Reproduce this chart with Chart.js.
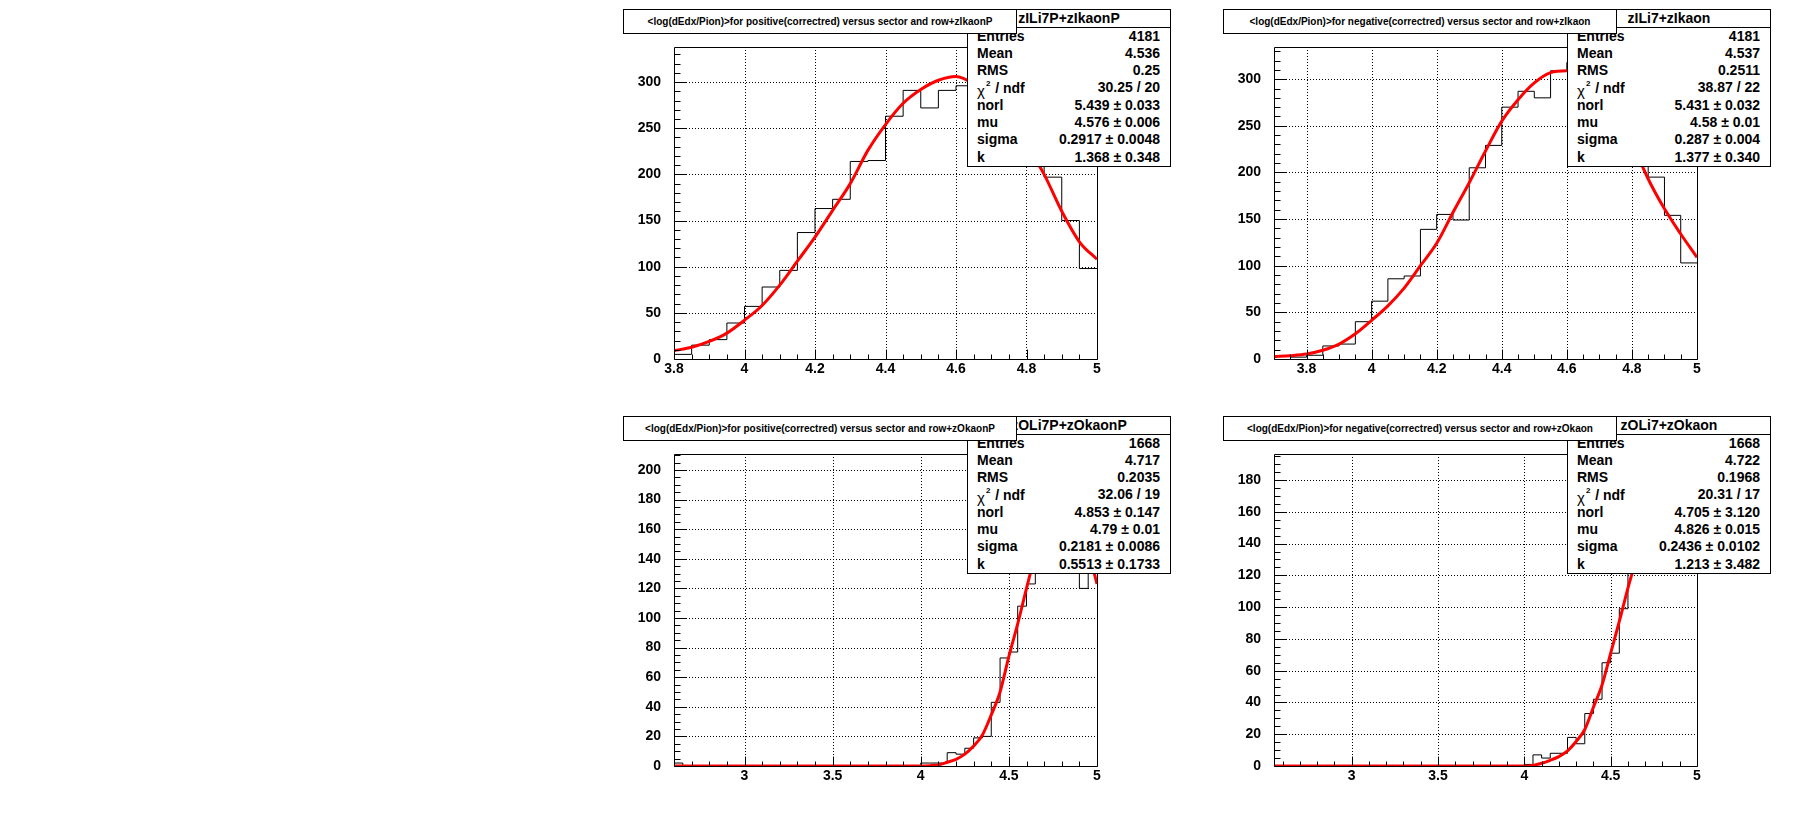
<!DOCTYPE html>
<html>
<head>
<meta charset="utf-8">
<script src="https://cdn.jsdelivr.net/npm/chart.js@4.4.1/dist/chart.umd.min.js"></script>
<style>
  body { margin: 0; background: #fff; font-family: "Liberation Sans", Arial, sans-serif; }
  #page { position: relative; width: 1800px; height: 814px; overflow: hidden; background: #fff; }
  .pad { position: absolute; width: 600px; height: 407px; }
  .pad canvas { position: absolute; left: 0; top: 0; }
  .title {
    position: absolute; left: 23px; top: 9px; width: 394px; height: 25px; box-sizing: border-box;
    border: 1px solid #000; background: #fff; z-index: 3;
    font-weight: bold; font-size: 10px; line-height: 23px; text-align: center; white-space: nowrap; color: #000;
  }
  .stat {
    position: absolute; left: 367px; top: 9px; width: 204px; height: 158px; box-sizing: border-box;
    border: 1px solid #000; background: #fff; z-index: 2; font-weight: bold; font-size: 14px; color: #000;
  }
  .stat .hdr {
    position: absolute; left: 0; top: 0; right: 0; height: 18px; box-sizing: border-box;
    border-bottom: 1px solid #000; text-align: center; line-height: 17px; white-space: nowrap;
  }
  .stat .row { position: absolute; left: 9px; right: 10px; height: 17px; line-height: 17px; white-space: nowrap; }
  .stat .row .v { position: absolute; right: 0; top: 0; }
  .chi { font-weight: normal; font-size: 15px; position: relative; top: 3px; }
  .sup { font-size: 8px; position: relative; top: -7px; margin-left: 1px; margin-right: 1px; }
</style>
</head>
<body>
<div id="page">
  <div class="pad" id="padTL" style="left:600px;top:0px"><canvas id="cTL" width="600" height="407"></canvas></div>
  <div class="pad" id="padTR" style="left:1200px;top:0px"><canvas id="cTR" width="600" height="407"></canvas></div>
  <div class="pad" id="padBL" style="left:600px;top:407px"><canvas id="cBL" width="600" height="407"></canvas></div>
  <div class="pad" id="padBR" style="left:1200px;top:407px"><canvas id="cBR" width="600" height="407"></canvas></div>
</div>
<script>
// histogram contents (bin width 0.05)
const tlXMin = 3.8;
const tlCounts = [5, 15, 21, 39, 57, 78, 96, 137, 163, 173, 214, 215, 263, 291, 272, 291, 296, 322, 280, 262, 232, 197, 150, 98];
const tlFitX = [3.8, 3.85, 3.9, 3.95, 4.0, 4.05, 4.1, 4.15, 4.2, 4.25, 4.3, 4.35, 4.4, 4.45, 4.5, 4.55, 4.6, 4.65, 4.7, 4.75, 4.8, 4.85, 4.9, 4.95, 5.0];
const tlFitY = [9, 12.7, 19, 28, 42, 58, 80, 106, 132, 161, 190, 226, 254, 277, 292, 302, 306, 298, 282, 260, 232, 200, 160, 127, 108];

const trXMin = 3.7;
const trCounts = [3, 2, 4, 14, 16, 40, 62, 86, 89, 139, 155, 149, 205, 229, 270, 287, 280, 309, 318, 300, 285, 262, 225, 195, 154, 103];
const trFitX = [3.7, 3.75, 3.8, 3.85, 3.9, 3.95, 4.0, 4.05, 4.1, 4.15, 4.2, 4.25, 4.3, 4.35, 4.4, 4.45, 4.5, 4.55, 4.6, 4.65, 4.7, 4.75, 4.8, 4.85, 4.9, 4.95, 5.0];
const trFitY = [2.5, 3.6, 5.4, 9.4, 16, 27, 41.5, 57, 76, 100, 124, 157, 189, 223, 255, 278, 296, 307, 309, 305, 290, 265, 232, 193, 161, 134, 109];

const blXMin = 2.6;
const blCounts = [2, 0, 0, 0, 0, 0, 0, 0, 0, 0, 0, 0, 0, 0, 0, 0, 0, 0, 0, 0, 0, 0, 0, 0, 0, 0, 0, 0,
  2, 2, 2, 9, 8, 12, 19, 20, 43, 73, 77, 108, 123, 150, 172, 200, 185, 178, 120, 150];
const blFitX = [2.6, 3.0, 3.5, 4.0, 4.05, 4.1, 4.15, 4.2, 4.25, 4.3, 4.35, 4.4, 4.45, 4.5, 4.55, 4.6, 4.65, 4.7, 4.75, 4.8, 4.85, 4.9, 4.95, 5.0];
const blFitY = [0, 0, 0, 0, 0.2, 0.7, 2.5, 4.5, 8, 13.5, 21, 34.5, 50, 74, 96, 120, 143, 163, 176, 181, 177, 165, 146, 123];

const brXMin = 2.55;
const brCounts = [0, 0, 0, 0, 0, 0, 0, 0, 0, 0, 0, 0, 0, 0, 0, 0, 0, 0, 0, 0, 0, 0, 0, 0, 0, 0, 0, 0, 0,
  1, 7, 5, 8, 8, 18, 14, 33, 42, 65, 71, 99, 130, 155, 170, 182, 187, 175, 160, 140];
const brFitX = [2.55, 3.0, 3.5, 4.0, 4.05, 4.1, 4.15, 4.2, 4.25, 4.3, 4.35, 4.4, 4.45, 4.5, 4.55, 4.6, 4.65, 4.7, 4.75, 4.8, 4.85, 4.9, 4.95, 5.0];
const brFitY = [0, 0, 0, 0, 0.4, 1.7, 3.6, 5.9, 9.5, 15.4, 23, 37, 51, 71, 91, 112, 131, 150, 163, 171, 172, 167, 157, 143];

const binWidth = 0.05;

// axis labels
const topXLabels = [3.8, 4, 4.2, 4.4, 4.6, 4.8, 5];
const botXLabels = [3, 3.5, 4, 4.5, 5];
const topYLabels = [0, 50, 100, 150, 200, 250, 300];
const blYLabels = [0, 20, 40, 60, 80, 100, 120, 140, 160, 180, 200];
const brYLabels = [0, 20, 40, 60, 80, 100, 120, 140, 160, 180];

// titles and stat boxes
const statLabels = ['Entries', 'Mean', 'RMS', 'CHI', 'norl', 'mu', 'sigma', 'k'];
const tlStats = ['4181', '4.536', '0.25', '30.25 / 20', '5.439 ± 0.033', '4.576 ± 0.006', '0.2917 ± 0.0048', '1.368 ± 0.348'];
const trStats = ['4181', '4.537', '0.2511', '38.87 / 22', '5.431 ± 0.032', '4.58 ± 0.01', '0.287 ± 0.004', '1.377 ± 0.340'];
const blStats = ['1668', '4.717', '0.2035', '32.06 / 19', '4.853 ± 0.147', '4.79 ± 0.01', '0.2181 ± 0.0086', '0.5513 ± 0.1733'];
const brStats = ['1668', '4.722', '0.1968', '20.31 / 17', '4.705 ± 3.120', '4.826 ± 0.015', '0.2436 ± 0.0102', '1.213 ± 3.482'];

const FONT = '"Liberation Sans", Arial, sans-serif';
Chart.defaults.font.family = FONT;

function gridSteps(min, max, step) {
  const out = [];
  const n0 = Math.ceil(min / step - 1e-6), n1 = Math.floor(max / step + 1e-6);
  for (let n = n0; n <= n1; n++) out.push(n * step);
  return out;
}

function isMajor(v, labels) {
  return labels.some(l => Math.abs(l - v) < 1e-6);
}

// ROOT style frame: dotted grid, frame box, ticks pointing inside
const rootFrame = {
  id: 'rootFrame',
  beforeDatasetsDraw(chart, args, o) {
    const { ctx, chartArea: a, scales: { x, y } } = chart;
    ctx.save();
    ctx.strokeStyle = '#000';
    ctx.lineWidth = 1;
    ctx.setLineDash([1, 2]);
    ctx.beginPath();
    o.xMajor.forEach(v => {
      if (v <= x.min + 1e-6 || v >= x.max - 1e-6) return;
      const px = Math.round(x.getPixelForValue(v)) + 0.5;
      ctx.moveTo(px, a.top);
      ctx.lineTo(px, a.bottom);
    });
    o.yMajor.forEach(v => {
      if (v <= y.min + 1e-6 || v >= y.max - 1e-6) return;
      const py = Math.round(y.getPixelForValue(v)) + 0.5;
      ctx.moveTo(a.left, py);
      ctx.lineTo(a.right, py);
    });
    ctx.stroke();
    ctx.restore();
  },
  afterDatasetsDraw(chart, args, o) {
    const { ctx, chartArea: a, scales: { x, y } } = chart;
    const l = Math.round(a.left) + 0.5, r = Math.round(a.right) + 0.5;
    const t = Math.round(a.top) + 0.5, b = Math.round(a.bottom) + 0.5;
    ctx.save();
    ctx.strokeStyle = '#000';
    ctx.lineWidth = 1;
    ctx.beginPath();
    ctx.rect(l, t, r - l, b - t);
    gridSteps(x.min, x.max, o.xMinor).forEach(v => {
      const px = Math.round(x.getPixelForValue(v)) + 0.5;
      ctx.moveTo(px, b);
      ctx.lineTo(px, b - (isMajor(v, o.xMajor) ? 10 : 5));
    });
    gridSteps(y.min, y.max, o.yMinor).forEach(v => {
      const py = Math.round(y.getPixelForValue(v)) + 0.5;
      ctx.moveTo(l, py);
      ctx.lineTo(l + (isMajor(v, o.yMajor) ? 12 : 6), py);
    });
    ctx.stroke();
    ctx.restore();
  }
};

function histPoints(xMin, counts) {
  const pts = counts.map((c, i) => ({ x: xMin + i * binWidth, y: c }));
  pts.push({ x: xMin + counts.length * binWidth, y: counts[counts.length - 1] });
  return pts;
}

function makePad(padId, canvasId, cfg) {
  const pad = document.getElementById(padId);

  const title = document.createElement('div');
  title.className = 'title';
  title.textContent = cfg.title;
  pad.appendChild(title);

  const stat = document.createElement('div');
  stat.className = 'stat';
  let html = `<div class="hdr">${cfg.name}</div>`;
  statLabels.forEach((lab, i) => {
    const text = lab === 'CHI' ? '<span class="chi">χ</span><span class="sup">2</span> / ndf' : lab;
    html += `<div class="row" style="top:${17.5 + 17.3 * i}px">${text}<span class="v">${cfg.stats[i]}</span></div>`;
  });
  stat.innerHTML = html;
  pad.appendChild(stat);

  const tickFont = { family: FONT, size: 14, weight: 'bold' };

  new Chart(document.getElementById(canvasId), {
    type: 'line',
    data: {
      datasets: [{
        data: cfg.fitX.map((x, i) => ({ x: x, y: cfg.fitY[i] })),
        borderColor: '#ff0000',
        borderWidth: 3,
        pointRadius: 0,
        cubicInterpolationMode: 'monotone',
        fill: false
      },
      {
        // 'before' keeps each bin's height over [low edge, next edge]
        data: histPoints(cfg.xMin, cfg.counts),
        borderColor: '#000',
        borderWidth: 1,
        pointRadius: 0,
        stepped: 'before',
        fill: false
      }]
    },
    options: {
      responsive: false,
      animation: false,
      devicePixelRatio: 1,
      layout: { padding: { top: 47, right: 103, left: 0, bottom: 0 } },
      plugins: {
        legend: { display: false },
        tooltip: { enabled: false },
        rootFrame: { xMajor: cfg.xLabels, yMajor: cfg.yLabels, xMinor: cfg.xMinor, yMinor: cfg.yMinor }
      },
      scales: {
        x: {
          type: 'linear',
          min: cfg.xMin,
          max: 5,
          afterBuildTicks: s => { s.ticks = cfg.xLabels.map(v => ({ value: v })); },
          afterFit: s => { s.height = 48; },
          grid: { display: false },
          border: { display: false },
          ticks: { padding: -6, color: '#000', font: tickFont, maxRotation: 0, autoSkip: false, callback: v => String(v) }
        },
        y: {
          type: 'linear',
          min: 0,
          max: cfg.yMax,
          afterBuildTicks: s => { s.ticks = cfg.yLabels.map(v => ({ value: v })); },
          afterFit: s => { s.width = 74; },
          grid: { display: false },
          border: { display: false },
          ticks: { padding: 5, color: '#000', font: tickFont, autoSkip: false, callback: v => String(v) }
        }
      }
    },
    plugins: [rootFrame]
  });
}

makePad('padTL', 'cTL', {
  title: '<log(dEdx/Pion)>for positive(correctred) versus sector and row+zIkaonP',
  name: 'zILi7P+zIkaonP', stats: tlStats,
  xMin: tlXMin, counts: tlCounts, fitX: tlFitX, fitY: tlFitY,
  yMax: 338, xLabels: topXLabels, yLabels: topYLabels, xMinor: 0.05, yMinor: 10
});
makePad('padTR', 'cTR', {
  title: '<log(dEdx/Pion)>for negative(correctred) versus sector and row+zIkaon',
  name: 'zILi7+zIkaon', stats: trStats,
  xMin: trXMin, counts: trCounts, fitX: trFitX, fitY: trFitY,
  yMax: 334.5, xLabels: topXLabels, yLabels: topYLabels, xMinor: 0.05, yMinor: 10
});
makePad('padBL', 'cBL', {
  title: '<log(dEdx/Pion)>for positive(correctred) versus sector and row+zOkaonP',
  name: 'zOLi7P+zOkaonP', stats: blStats,
  xMin: blXMin, counts: blCounts, fitX: blFitX, fitY: blFitY,
  yMax: 210.8, xLabels: botXLabels, yLabels: blYLabels, xMinor: 0.1, yMinor: 5
});
makePad('padBR', 'cBR', {
  title: '<log(dEdx/Pion)>for negative(correctred) versus sector and row+zOkaon',
  name: 'zOLi7+zOkaon', stats: brStats,
  xMin: brXMin, counts: brCounts, fitX: brFitX, fitY: brFitY,
  yMax: 196.4, xLabels: botXLabels, yLabels: brYLabels, xMinor: 0.1, yMinor: 5
});
</script>
</body>
</html>
